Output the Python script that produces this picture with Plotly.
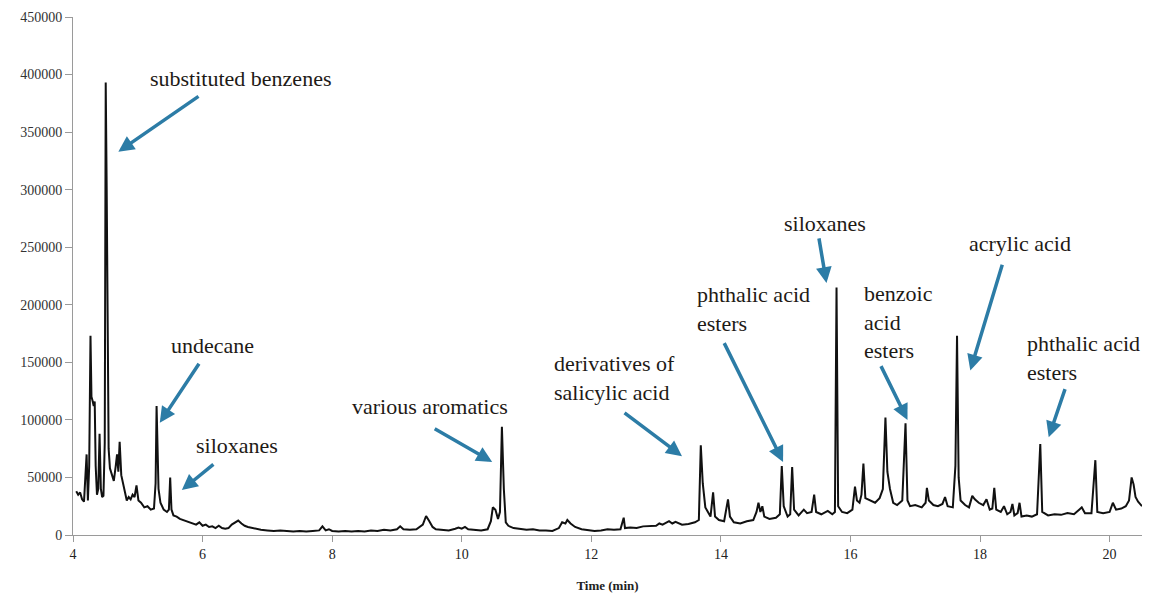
import plotly.graph_objects as go

# GC-MS total ion chromatogram: retention time (min) and abundance
time_min = [
    4.05, 4.08, 4.11, 4.14, 4.17, 4.19, 4.21, 4.23, 4.25, 4.27, 4.285, 4.30, 4.32, 4.335,
    4.35, 4.37, 4.39, 4.41, 4.43, 4.45, 4.47, 4.49, 4.505, 4.52, 4.535, 4.55, 4.57, 4.60,
    4.63, 4.66, 4.68, 4.70, 4.72, 4.745, 4.77, 4.80, 4.83, 4.86, 4.89, 4.92, 4.95, 4.98,
    5.01, 5.05, 5.10, 5.15, 5.20, 5.25, 5.275, 5.29, 5.305, 5.32, 5.35, 5.40, 5.45, 5.48,
    5.50, 5.52, 5.55, 5.60, 5.65, 5.70, 5.75, 5.80, 5.85, 5.90, 5.95, 6.00, 6.05, 6.10,
    6.15, 6.20, 6.25, 6.30, 6.35, 6.40, 6.45, 6.50, 6.55, 6.60, 6.65, 6.70, 6.80, 6.90,
    7.00, 7.10, 7.20, 7.30, 7.40, 7.50, 7.60, 7.70, 7.80, 7.85, 7.90, 7.95, 8.00, 8.10,
    8.20, 8.30, 8.40, 8.50, 8.60, 8.70, 8.80, 8.90, 9.00, 9.05, 9.10, 9.20, 9.30, 9.40,
    9.45, 9.50, 9.55, 9.60, 9.70, 9.80, 9.90, 9.95, 10.00, 10.05, 10.10, 10.20, 10.30,
    10.40, 10.45, 10.48, 10.52, 10.56, 10.59, 10.62, 10.65, 10.68, 10.72, 10.80, 10.90,
    11.00, 11.10, 11.20, 11.30, 11.40, 11.50, 11.55, 11.60, 11.63, 11.68, 11.75, 11.85,
    11.95, 12.05, 12.15, 12.25, 12.35, 12.45, 12.50, 12.52, 12.60, 12.70, 12.80, 12.90,
    13.00, 13.05, 13.10, 13.20, 13.25, 13.30, 13.40, 13.50, 13.60, 13.66, 13.69, 13.72,
    13.76, 13.80, 13.84, 13.88, 13.91, 13.97, 14.05, 14.11, 14.14, 14.20, 14.30, 14.40,
    14.50, 14.55, 14.58, 14.61, 14.64, 14.67, 14.75, 14.85, 14.91, 14.94, 14.97, 15.03,
    15.07, 15.10, 15.13, 15.20, 15.28, 15.33, 15.40, 15.44, 15.47, 15.55, 15.65, 15.72,
    15.76, 15.785, 15.81, 15.87, 15.95, 16.03, 16.07, 16.10, 16.14, 16.17, 16.20, 16.23,
    16.30, 16.38, 16.45, 16.50, 16.54, 16.57, 16.61, 16.66, 16.72, 16.80, 16.85, 16.88,
    16.92, 17.00, 17.10, 17.16, 17.18, 17.21, 17.28, 17.35, 17.42, 17.46, 17.50, 17.58,
    17.62, 17.645, 17.67, 17.70, 17.77, 17.83, 17.88, 17.92, 17.98, 18.05, 18.10, 18.15,
    18.19, 18.22, 18.25, 18.32, 18.37, 18.42, 18.47, 18.50, 18.53, 18.58, 18.61, 18.64,
    18.72, 18.80, 18.88, 18.93, 18.96, 19.05, 19.15, 19.25, 19.35, 19.45, 19.53, 19.57,
    19.62, 19.72, 19.78, 19.81, 19.90, 20.00, 20.05, 20.10, 20.18, 20.25, 20.30, 20.34,
    20.37, 20.40, 20.44, 20.50,
]
abundance = [
    38000, 35000, 37000, 31000, 29000, 45000, 70000, 30000, 60000, 173000, 120000, 117000, 112000, 116000,
    60000, 35000, 40000, 88000, 40000, 33000, 34000, 80000, 393000, 300000, 150000, 75000, 58000, 52000,
    47000, 60000, 70000, 55000, 81000, 52000, 45000, 37000, 30000, 33000, 31000, 35000, 33000, 43000,
    30000, 28000, 24000, 25000, 22000, 23000, 45000, 112000, 60000, 40000, 28000, 22000, 20000, 22000,
    50000, 22000, 17000, 16000, 14000, 13000, 12000, 11000, 10000, 9000, 11000, 8000, 9000, 7000,
    7500, 6000, 8000, 6000, 5500, 6000, 9000, 11000, 12500, 10000, 8000, 7000, 5500, 4500,
    4000, 3500, 4000, 3500, 3000, 3500, 3000, 3500, 4000, 7500, 4000, 5000, 3500, 3000,
    3500, 3000, 3500, 3000, 4000, 3500, 4500, 4000, 5000, 7500, 5000, 4500, 5000, 9000,
    16500, 12000, 7000, 5000, 4500, 4000, 5500, 6500, 5500, 7000, 5000, 4500, 4000,
    5000, 12000, 24000, 22000, 14000, 20000, 94000, 40000, 11000, 8000, 6000, 5000,
    4500, 5000, 4000, 4000, 3500, 6000, 11000, 10000, 13000, 10000, 7000, 5000,
    4000, 3500, 4000, 5000, 4500, 5000, 15000, 6000, 6500, 6000, 7500, 8000,
    8000, 10000, 9000, 12000, 10000, 11500, 9000, 9500, 11000, 13000, 78000, 45000,
    24000, 20000, 16000, 37000, 16000, 13000, 12000, 31000, 16000, 11000, 10000, 12000,
    13000, 20000, 28000, 20000, 25000, 16000, 14000, 15000, 18000, 60000, 25000, 16000,
    18000, 59000, 22000, 17000, 22000, 19000, 20000, 35000, 20000, 18000, 21000, 18000,
    20000, 215000, 25000, 20000, 19000, 22000, 42000, 30000, 28000, 35000, 62000, 32000,
    30000, 28000, 32000, 40000, 102000, 55000, 40000, 28000, 26000, 30000, 97000, 30000,
    25000, 26000, 24000, 28000, 41000, 30000, 26000, 25000, 27000, 33000, 25000, 24000,
    60000, 173000, 50000, 30000, 26000, 24000, 34000, 31000, 28000, 26000, 31000, 22000,
    23000, 41000, 22000, 20000, 25000, 18000, 20000, 27000, 17000, 19000, 28000, 16000,
    17000, 16000, 18000, 79000, 20000, 17000, 18000, 17500, 19000, 18000, 22000, 24000,
    19000, 19000, 65000, 20000, 19000, 20000, 28000, 22000, 23000, 25000, 30000, 50000,
    44000, 33000, 29000, 25000,
]

# Compound-class labels: text, text anchor (time, abundance), horizontal anchor
label_texts = [
    "substituted benzenes", "undecane", "siloxanes", "various aromatics",
    "derivatives of<br>salicylic acid", "phthalic acid<br>esters", "siloxanes",
    "benzoic<br>acid<br>esters", "acrylic acid", "phthalic acid<br>esters",
]
label_x = [6.58, 6.15, 6.53, 9.51, 12.36, 13.60, 15.60, 16.18, 18.61, 18.70]
label_y = [397000, 165000, 77500, 112000, 136500, 196500, 271000, 185000, 253000, 154000]
label_xanchor = ["center", "center", "center", "center", "center", "left", "center",
                 "left", "center", "left"]

# Arrow tails and heads (time, abundance)
arrow_tail_x = [5.96, 5.96, 6.19, 9.56, 12.49, 14.04, 15.51, 16.46, 18.35, 19.32]
arrow_tail_y = [382000, 150000, 62500, 93000, 107000, 168000, 259000, 148000, 236000, 128000]
arrow_head_x = [4.70, 5.34, 5.68, 10.47, 13.40, 14.96, 15.63, 16.88, 17.85, 19.06]
arrow_head_y = [333000, 97500, 39000, 63500, 68500, 63500, 219000, 100000, 143000, 85000]

x_ticks = [4, 6, 8, 10, 12, 14, 16, 18, 20]

fig = go.Figure()
fig.add_trace(go.Scatter(
    x=time_min, y=abundance, mode="lines",
    line=dict(color="#111111", width=2),
    showlegend=False, hoverinfo="x+y",
))

label_font = "Liberation Serif"
annotations = []
for txt, lx, ly, anc in zip(label_texts, label_x, label_y, label_xanchor):
    annotations.append(dict(
        x=lx, y=ly, xref="x", yref="y", text=txt, showarrow=False,
        xanchor=anc, yanchor="middle", align="left",
        font=dict(family=label_font, size=22, color="#1e1a16"),
    ))
for tx, ty, hx, hy in zip(arrow_tail_x, arrow_tail_y, arrow_head_x, arrow_head_y):
    annotations.append(dict(
        x=hx, y=hy, ax=tx, ay=ty, xref="x", yref="y", axref="x", ayref="y",
        text="", showarrow=True, arrowhead=2, arrowsize=0.9, arrowwidth=3.5,
        arrowcolor="#2c7ca6", standoff=0, startstandoff=0,
    ))

fig.update_layout(
    width=1150, height=595,
    margin=dict(l=73, r=8, t=17, b=60),
    paper_bgcolor="white", plot_bgcolor="white",
    annotations=annotations,
    xaxis=dict(
        range=[4, 20.5], tickvals=x_ticks, ticktext=[str(v) for v in x_ticks],
        showline=True, linecolor="#9a9a9a", linewidth=1,
        ticks="outside", ticklen=6, tickcolor="#9a9a9a",
        showgrid=False, zeroline=False, automargin=False,
        tickfont=dict(family=label_font, size=14, color="#222222"),
        title=dict(text="<b>Time (min)</b>", standoff=20,
                   font=dict(family=label_font, size=13, color="#222222")),
    ),
    yaxis=dict(
        range=[0, 450000], dtick=50000, tickformat="d",
        showline=True, linecolor="#9a9a9a", linewidth=1,
        ticks="outside", ticklen=7, tickcolor="#9a9a9a",
        showgrid=False, zeroline=False, automargin=False,
        tickfont=dict(family=label_font, size=14, color="#333333"),
    ),
)

fig.write_html("out.html")
